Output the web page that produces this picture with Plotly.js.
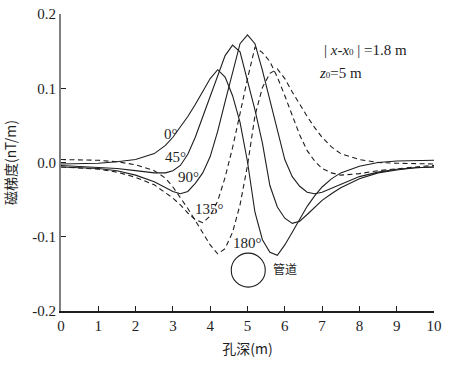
<!DOCTYPE html>
<html>
<head>
<meta charset="utf-8">
<script src="https://cdn.plot.ly/plotly-3.0.1.min.js"></script>
<style>
  html, body { margin: 0; padding: 0; background: #fff; }
  #chart { width: 454px; height: 366px; }
</style>
</head>
<body>
<div id="chart"></div>
<script>
  // depth along the borehole (m)
  const depth = [0, 0.5, 1, 1.5, 2, 2.5, 2.8, 3, 3.2, 3.4, 3.6, 3.8, 4, 4.2, 4.4, 4.6, 4.8, 5,
    5.2, 5.4, 5.6, 5.8, 6, 6.2, 6.4, 6.6, 6.8, 7, 7.25, 7.5, 8, 8.5, 9, 9.5, 10];

  // magnetic gradient (nT/m) for each magnetisation angle
  const grad0 = [-0.002, -0.002, -0.001, 0.001, 0.004, 0.012, 0.023, 0.034, 0.048, 0.062, 0.078, 0.096,
    0.113, 0.125, 0.115, 0.090, 0.054, 0.001, -0.067, -0.104, -0.121, -0.125, -0.111, -0.094, -0.076,
    -0.059, -0.045, -0.033, -0.022, -0.014, -0.005, 0.000, 0.002, 0.003, 0.003];
  const grad45 = [-0.004, -0.005, -0.006, -0.008, -0.011, -0.014, -0.014, -0.011, -0.004, 0.011, 0.034,
    0.062, 0.090, 0.118, 0.144, 0.158, 0.149, 0.110, 0.071, 0.026, -0.031, -0.060, -0.075, -0.082,
    -0.079, -0.070, -0.060, -0.051, -0.042, -0.034, -0.022, -0.014, -0.010, -0.007, -0.006];
  const grad90 = [-0.006, -0.007, -0.008, -0.011, -0.017, -0.026, -0.034, -0.039, -0.042, -0.039, -0.028,
    -0.014, 0.008, 0.042, 0.082, 0.122, 0.160, 0.172, 0.160, 0.124, 0.084, 0.044, 0.004, -0.019,
    -0.032, -0.040, -0.042, -0.040, -0.035, -0.029, -0.019, -0.013, -0.009, -0.007, -0.006];
  const grad135 = [-0.006, -0.007, -0.009, -0.013, -0.020, -0.030, -0.041, -0.048, -0.057, -0.068, -0.077,
    -0.081, -0.072, -0.052, -0.020, 0.020, 0.066, 0.113, 0.155, 0.148, 0.136, 0.115, 0.090, 0.064,
    0.037, 0.016, 0.002, -0.008, -0.014, -0.017, -0.015, -0.011, -0.008, -0.006, -0.004];
  const grad180 = [0.004, 0.004, 0.003, 0.001, -0.003, -0.011, -0.021, -0.033, -0.047, -0.062, -0.078,
    -0.095, -0.111, -0.123, -0.116, -0.094, -0.057, -0.004, 0.063, 0.101, 0.120, 0.126, 0.113, 0.095,
    0.078, 0.062, 0.047, 0.034, 0.021, 0.012, 0.004, 0.000, -0.001, -0.002, -0.002];

  const yTickVals = [-0.2, -0.1, 0, 0.1, 0.2];
  const yTickText = ["-0.2", "-0.1", "0.0", "0.1", "0.2"];
  const xTickVals = [0, 1, 2, 3, 4, 5, 6, 7, 8, 9, 10];

  // angle labels: text and where they sit
  const angleText = ["0°", "45°", "90°", "135°", "180°"];
  const angleX = [2.95, 3.06, 3.43, 3.99, 4.99];
  const angleY = [0.039, 0.008, -0.019, -0.062, -0.108];

  const pipeX = 5.02;
  const pipeY = -0.145;

  const SERIF = "'Liberation Serif', 'Times New Roman', 'DejaVu Serif', serif";
  const CJK = "'Noto Sans CJK SC', sans-serif";
  const INK = "#1e1e1e";

  const series = [
    { y: grad0, dash: "solid" },
    { y: grad45, dash: "solid" },
    { y: grad90, dash: "solid" },
    { y: grad135, dash: "5px,3.5px" },
    { y: grad180, dash: "5px,3.5px" },
  ];

  const traces = series.map((s) => ({
    x: depth,
    y: s.y,
    type: "scatter",
    mode: "lines",
    line: { color: INK, width: 1.1, dash: s.dash },
    hoverinfo: "skip",
  }));

  const annotations = angleText.map((t, i) => ({
    x: angleX[i], y: angleY[i], xref: "x", yref: "y",
    text: t, showarrow: false,
    font: { family: SERIF, size: 15, color: INK },
  }));

  annotations.push(
    {
      x: 7.0, y: 0.151, xref: "x", yref: "y", xanchor: "left",
      text: "| <i>x</i>-<i>x</i><span style=\"font-size:9px\">0</span> | =1.8 m", showarrow: false,
      font: { family: SERIF, size: 15, color: INK },
    },
    {
      x: 6.86, y: 0.120, xref: "x", yref: "y", xanchor: "left",
      text: "<i>z</i><span style=\"font-size:9px\">0</span>=5 m", showarrow: false,
      font: { family: SERIF, size: 15, color: INK },
    },
    {
      x: 6.0, y: -0.143, xref: "x", yref: "y",
      text: "管道", showarrow: false,
      font: { family: CJK, size: 12, color: INK },
    },
  );

  const layout = {
    width: 454,
    height: 366,
    margin: { l: 61, r: 20, t: 14, b: 55 },
    paper_bgcolor: "#fff",
    plot_bgcolor: "#fff",
    showlegend: false,
    font: { family: SERIF, size: 15, color: INK },
    xaxis: {
      range: [0, 10],
      tickvals: xTickVals,
      ticks: "inside",
      ticklen: 5,
      tickcolor: INK,
      showgrid: false,
      zeroline: false,
      showline: true,
      linecolor: INK,
      linewidth: 1.5,
      tickfont: { family: SERIF, size: 15, color: INK },
      title: { text: "孔深(m)", font: { family: CJK, size: 14, color: INK }, standoff: 11 },
    },
    yaxis: {
      range: [-0.2, 0.2],
      tickvals: yTickVals,
      ticktext: yTickText,
      ticks: "inside",
      ticklen: 5,
      tickcolor: INK,
      showgrid: false,
      zeroline: false,
      showline: true,
      linecolor: "#808080",
      linewidth: 2,
      tickfont: { family: SERIF, size: 15, color: INK },
      title: { text: "磁梯度(nT/m)", font: { family: CJK, size: 14, color: INK }, standoff: 14 },
    },
    annotations,
    shapes: [
      {
        type: "circle", xref: "x", yref: "y",
        xsizemode: "pixel", ysizemode: "pixel",
        xanchor: pipeX, yanchor: pipeY,
        x0: -17, x1: 17, y0: -17, y1: 17,
        line: { color: INK, width: 1.1 },
      },
    ],
  };

  Plotly.newPlot("chart", traces, layout, { displayModeBar: false, staticPlot: true });
</script>
</body>
</html>
